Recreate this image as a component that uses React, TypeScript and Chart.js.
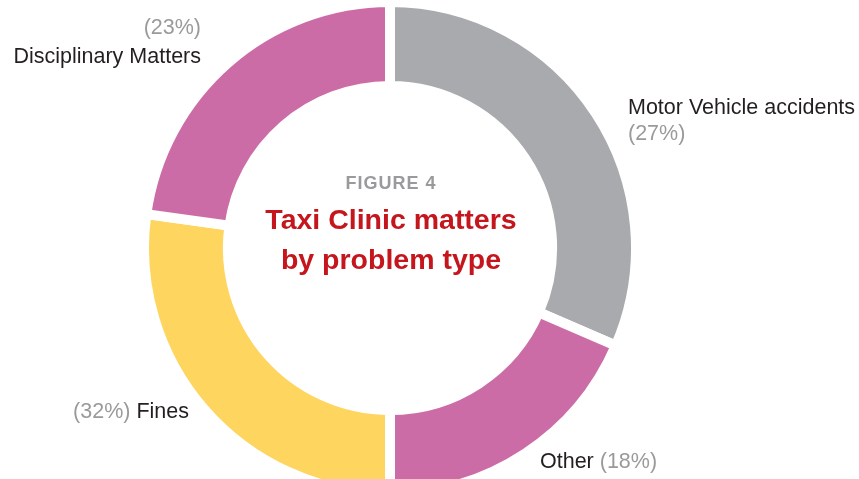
import React, { useEffect, useRef } from "react";
import { Chart, registerables } from "chart.js";

Chart.register(...registerables);

const categories = ["Motor Vehicle accidents", "Other", "Fines", "Disciplinary Matters"];
const sliceValues = [31.5, 18.5, 27.2, 22.8];
const percentLabels = ["(27%)", "(18%)", "(32%)", "(23%)"];
const sliceColors = ["#a9aaad", "#cc6ca6", "#fed55f", "#cc6ca6"];
const figureLabel = "FIGURE 4";
const titleLines = ["Taxi Clinic matters", "by problem type"];

const DARK = "#231f20";
const GREY_TXT = "#9a9a9a";
const RED = "#c4161c";
const FONT = "'Liberation Sans', Arial, sans-serif";

const textPlugin = {
  id: "textPlugin",
  afterDraw(chart: any) {
    const ctx = chart.ctx as CanvasRenderingContext2D;
    const meta = chart.getDatasetMeta(0);
    const arc = meta.data[0];
    const cx = arc.x;
    const cy = arc.y;
    ctx.save();
    ctx.textBaseline = "middle";

    // centre text
    ctx.textAlign = "center";
    ctx.fillStyle = "#999a9c";
    ctx.font = `bold 18px ${FONT}`;
    try { (ctx as any).letterSpacing = "1px"; } catch (e) {}
    ctx.fillText(figureLabel, cx + 1, cy - 64);
    try { (ctx as any).letterSpacing = "0px"; } catch (e) {}
    ctx.fillStyle = RED;
    ctx.font = `bold 28.5px ${FONT}`;
    ctx.fillText(titleLines[0], cx + 1, cy - 27);
    ctx.fillText(titleLines[1], cx + 1, cy + 13);

    const f = `21.5px ${FONT}`;
    ctx.font = f;

    // Disciplinary Matters (top-left, right aligned)
    ctx.textAlign = "right";
    ctx.fillStyle = GREY_TXT;
    ctx.fillText(percentLabels[3], cx - 189, cy - 220);
    ctx.fillStyle = DARK;
    ctx.fillText(categories[3], cx - 189, cy - 191);

    // Motor Vehicle accidents (right, left aligned)
    ctx.textAlign = "left";
    ctx.fillStyle = DARK;
    ctx.fillText(categories[0], cx + 238, cy - 140);
    ctx.fillStyle = GREY_TXT;
    ctx.fillText(percentLabels[0], cx + 238, cy - 114);

    // Fines (bottom-left)
    ctx.textAlign = "right";
    ctx.fillStyle = DARK;
    ctx.fillText(categories[2], cx - 201, cy + 164);
    const finesW = ctx.measureText(categories[2] + " ").width;
    ctx.fillStyle = GREY_TXT;
    ctx.fillText(percentLabels[2], cx - 201 - finesW, cy + 164);

    // Other (bottom-right)
    ctx.textAlign = "left";
    ctx.fillStyle = DARK;
    ctx.fillText(categories[1], cx + 150, cy + 214);
    const otherW = ctx.measureText(categories[1] + " ").width;
    ctx.fillStyle = GREY_TXT;
    ctx.fillText(percentLabels[1], cx + 150 + otherW, cy + 214);

    ctx.restore();
  },
};

export default function App() {
  const canvasRef = useRef<HTMLCanvasElement | null>(null);

  useEffect(() => {
    if (!canvasRef.current) return;
    const chart = new Chart(canvasRef.current, {
      type: "doughnut",
      data: {
        labels: categories,
        datasets: [
          {
            data: sliceValues,
            backgroundColor: sliceColors,
            borderColor: "#ffffff",
            borderWidth: 10,
            borderJoinStyle: "miter",
            hoverOffset: 0,
          } as any,
        ],
      },
      options: {
        animation: false,
        responsive: false,
        devicePixelRatio: 1,
        radius: 246,
        cutout: "65.9%",
        layout: { padding: { left: 0, right: 79, top: 17, bottom: 0 } },
        plugins: {
          legend: { display: false },
          tooltip: { enabled: false },
        },
        events: [],
      } as any,
      plugins: [textPlugin],
    });
    return () => chart.destroy();
  }, []);

  return (
    <div style={{ position: "fixed", left: 0, top: 0, width: 859, height: 479, background: "#ffffff", overflow: "hidden" }}>
      <canvas ref={canvasRef} width={859} height={479} style={{ display: "block" }} />
    </div>
  );
}
